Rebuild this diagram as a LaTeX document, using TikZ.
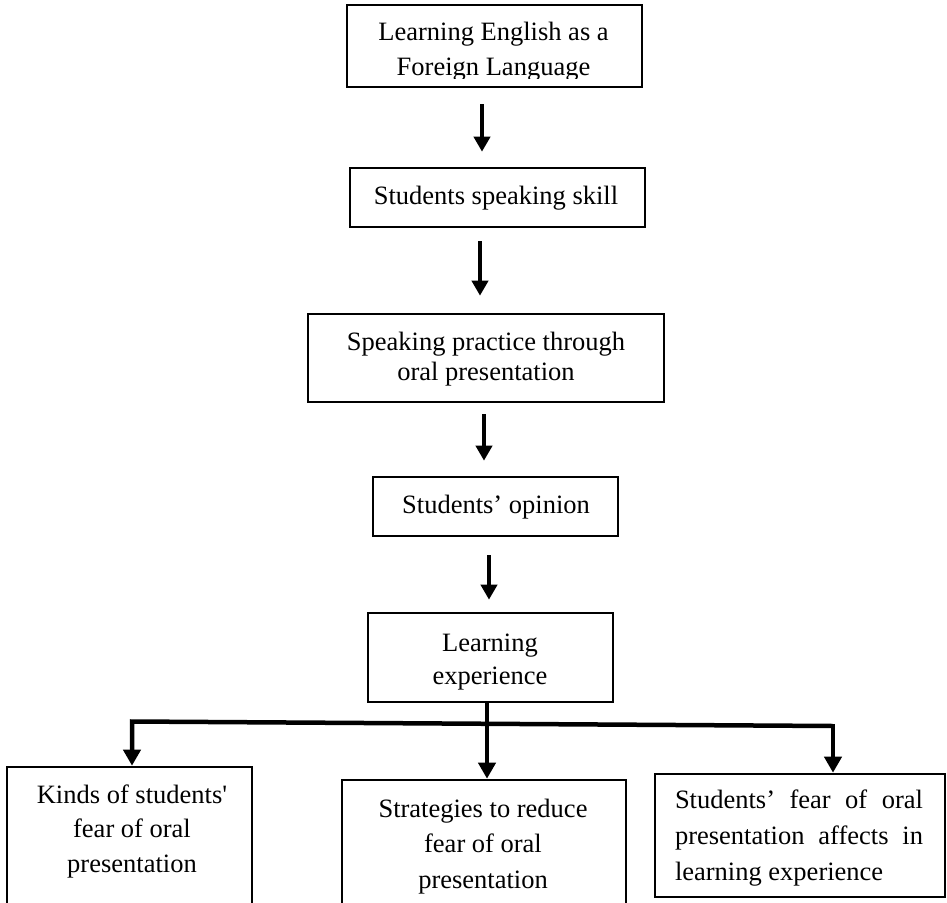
\documentclass[tikz,border=0pt]{standalone}
\usepackage{fontspec}
\setmainfont{Liberation Serif}
\usetikzlibrary{arrows.meta}
\begin{document}
\begin{tikzpicture}[x=1pt,y=-1pt,
  box/.style={draw, line width=2.6pt, inner sep=0pt},
  txt/.style={inner sep=0pt, align=center, font=\fontsize{26.5}{35}\selectfont},
  arr/.style={line width=4pt, -{Triangle[width=16pt,length=15pt]}},
  tree/.style={line width=4.5pt, -{Triangle[width=17pt,length=16pt]}}]
\useasboundingbox (0,0) rectangle (947,902);
\clip (0,0) rectangle (947,902);

% boxes
\node[box, minimum width=295pt, minimum height=82pt] (b1) at (494.5,46) {};
\node[box, minimum width=295pt, minimum height=59pt] (b2) at (497.5,197.5) {};
\node[box, minimum width=356pt, minimum height=88pt] (b3) at (486,358) {};
\node[box, minimum width=245pt, minimum height=59pt] (b4) at (495.5,506.5) {};
\node[box, minimum width=245pt, minimum height=89pt] (b5) at (490.5,657.5) {};
\node[box, minimum width=245pt, minimum height=153pt] (k) at (129.5,843.5) {};
\node[box, minimum width=284pt, minimum height=140pt] (s) at (484,850) {};
\node[box, minimum width=290pt, minimum height=123pt] (f) at (800,835.5) {};

% texts
\begin{scope}
\clip (340,5) rectangle (650,78.5);
\node[txt] (t1) at (493.5,51.4) {Learning English as a\\Foreign Language};
\end{scope}
\node[txt] (t2) at (496,197.9) {Students speaking skill};
\node[txt, font=\fontsize{26.5}{30}\selectfont] (t3) at (486,358.9) {Speaking practice through\\oral presentation};
\node[txt] (t4) at (496,506.9) {Students’ opinion};
\node[txt, font=\fontsize{26.5}{33}\selectfont] (t5) at (490,662.4) {Learning\\experience};
\node[txt, font=\fontsize{26.5}{34.5}\selectfont] (tk) at (132,831.4) {Kinds of students\textquotesingle\\fear of oral\\presentation};
\node[txt, font=\fontsize{26.5}{35.5}\selectfont] (ts) at (483,846.4) {Strategies to reduce\\fear of oral\\presentation};
\node[txt, font=\fontsize{26.5}{36}\selectfont, align=justify, text width=248pt] (tf) at (799,837.9) {Students’ fear of oral\linebreak presentation affects in\linebreak learning experience};

% chain arrows
\coordinate (x1) at (482,0);
\coordinate (x2) at (480,0);
\coordinate (x3) at (484,0);
\coordinate (x4) at (489,0);
\draw[arr, shorten <=16pt, shorten >=15pt] (b1.south -| x1) -- (b2.north -| x1);
\draw[arr, shorten <=13pt, shorten >=17pt] (b2.south -| x2) -- (b3.north -| x2);
\draw[arr, shorten <=11pt, shorten >=15pt] (b3.south -| x3) -- (b4.north -| x3);
\draw[arr, shorten <=18pt, shorten >=12pt] (b4.south -| x4) -- (b5.north -| x4);

% tree
\coordinate (jl) at (132,721.5);
\coordinate (jr) at (833,726);
\coordinate (xm) at (487,0);
\draw[tree] (jr) -- (jl) -- (jl |- k.north);
\draw[tree] ([yshift=2.25pt]jr) -- (jr |- f.north);
\draw[tree] (b5.south -| xm) -- (s.north -| xm);
\end{tikzpicture}
\end{document}
